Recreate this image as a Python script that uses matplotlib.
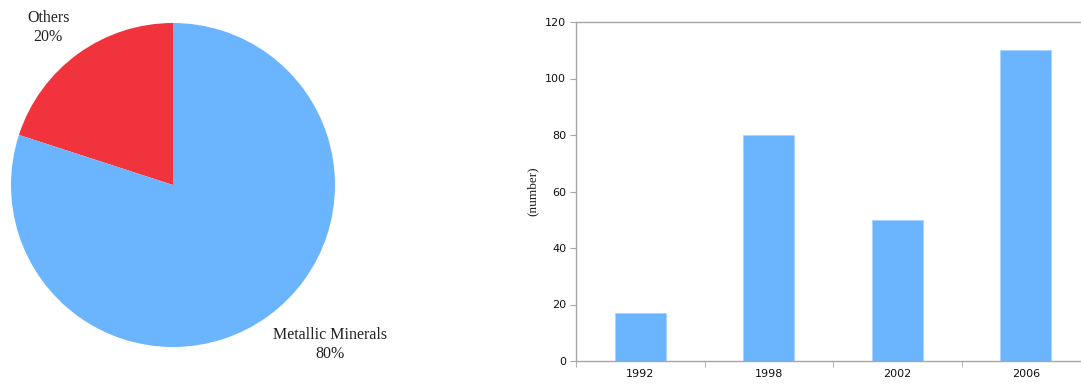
import matplotlib
matplotlib.use("Agg")
import matplotlib.pyplot as plt

# Share of mining activity
pie_labels = ["Others", "Metallic Minerals"]
pie_shares = [20, 80]
pie_colors = ["#F0333D", "#6BB5FF"]

# Counts by year
years = ["1992", "1998", "2002", "2006"]
counts = [17, 80, 50, 110]
bar_color = "#6BB5FF"

W, H = 1081, 385
fig = plt.figure(figsize=(W / 100, H / 100), dpi=100)

serif = ["Liberation Serif", "DejaVu Serif"]
sans = ["DejaVu Sans"]
axis_gray = "#A6A6A6"

# ---- pie ----
cx, cy, r = 173, 185, 162
ax_pie = fig.add_axes([(cx - r) / W, (H - cy - r) / H, 2 * r / W, 2 * r / H])
ax_pie.pie(pie_shares, colors=pie_colors, startangle=90, counterclock=True,
           wedgeprops=dict(linewidth=0))
ax_pie.set_xlim(-1, 1)
ax_pie.set_ylim(-1, 1)
ax_pie.set_aspect("auto")
ax_pie.axis("off")
ax_pie.text(-0.77, 0.972, f"{pie_labels[0]}\n{pie_shares[0]}%", ha="center", va="center",
            fontsize=11.5, family=serif, color="#222222", linespacing=1.3, clip_on=False)
ax_pie.text(0.97, -0.985, f"{pie_labels[1]}\n{pie_shares[1]}%", ha="center", va="center",
            fontsize=11.5, family=serif, color="#222222", linespacing=1.3, clip_on=False)

# ---- bars ----
left, right, top, bottom = 576, 576 + 4 * 128.5, 22, 361
ax = fig.add_axes([left / W, (H - bottom) / H, (right - left) / W, (bottom - top) / H])
x = list(range(len(years)))
ax.bar(x, counts, width=0.40, color=bar_color, edgecolor="#A9D3FF", linewidth=0.6)
ax.set_xlim(-0.5, len(years) - 0.5)
ax.set_ylim(0, 120)
ax.set_yticks(range(0, 121, 20))
ax.set_xticks(x)
ax.set_xticklabels(years)
ax.set_xticks([i - 0.5 for i in range(len(years) + 1)], minor=True)
ax.tick_params(axis="x", which="major", length=0, pad=6, labelsize=8)
ax.tick_params(axis="x", which="minor", length=4, color=axis_gray, direction="out")
ax.tick_params(axis="y", length=4, color=axis_gray, direction="out", pad=3, labelsize=8)
for lab in ax.get_xticklabels() + ax.get_yticklabels():
    lab.set_family(sans)
    lab.set_color("#111111")
for side in ("left", "bottom", "top"):
    ax.spines[side].set_color(axis_gray)
    ax.spines[side].set_linewidth(1.0)
ax.spines["right"].set_visible(False)
ax.set_ylabel("(number)", family=serif, fontsize=9.5, labelpad=4.5, color="#222222")

fig.savefig("out.png", dpi=100)
